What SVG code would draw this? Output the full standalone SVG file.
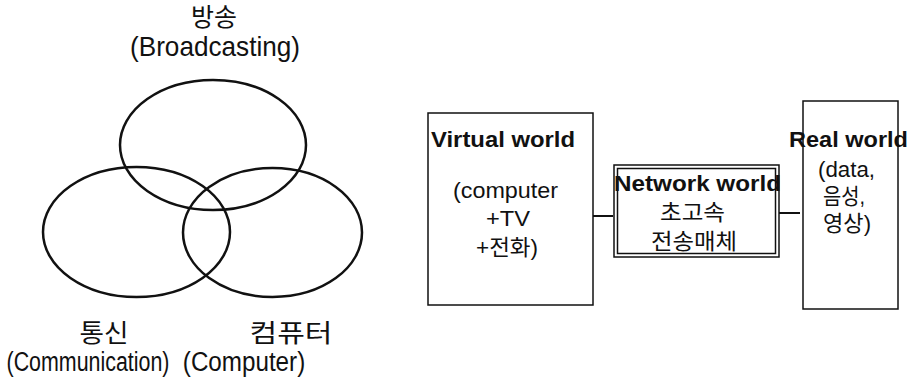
<svg xmlns="http://www.w3.org/2000/svg" width="913" height="380" viewBox="0 0 913 380">
<style>
  .bg { fill: #ffffff; }
  .ell { fill: none; stroke: #111; stroke-width: 2.5; }
  .box { fill: none; stroke: #111; stroke-width: 1.5; }
  .conn { stroke: #111; stroke-width: 2; }
  text { fill: #111; font-family: "Liberation Sans", "Noto Sans CJK KR", sans-serif; text-anchor: middle; }
  .lg { font-size: 28px; }
  .lk { font-size: 25px; }
  .md { font-size: 22px; }
  .b { font-weight: bold; text-anchor: start; }
</style>
<rect class="bg" x="0" y="0" width="913" height="380"/>

<g id="broadcasting">
  <ellipse class="ell" cx="213" cy="145" rx="93" ry="65"/>
  <text class="lk" x="214" y="26" textLength="46" lengthAdjust="spacingAndGlyphs">방송</text>
  <text class="lg" x="215" y="56" textLength="170" lengthAdjust="spacingAndGlyphs">(Broadcasting)</text>
</g>

<g id="communication">
  <ellipse class="ell" cx="136.5" cy="232" rx="93.5" ry="65"/>
  <text class="lk" x="104" y="342" textLength="49" lengthAdjust="spacingAndGlyphs">통신</text>
  <text class="lg" transform="translate(88,371) scale(0.765,1)" x="0" y="0">(Communication)</text>
</g>

<g id="computer">
  <ellipse class="ell" cx="272.5" cy="232.5" rx="89.5" ry="64.5"/>
  <text class="lk" x="291" y="342" textLength="83" lengthAdjust="spacingAndGlyphs">컴퓨터</text>
  <text class="lg" transform="translate(244,371) scale(0.865,1)" x="0" y="0">(Computer)</text>
</g>

<g id="connectors">
  <line class="conn" x1="593" y1="216" x2="613" y2="216"/>
  <line class="conn" x1="779" y1="213" x2="800" y2="213"/>
</g>

<g id="virtual-world">
  <rect class="box" x="428" y="113" width="165" height="192"/>
  <text class="md b" x="431" y="147" textLength="144" lengthAdjust="spacingAndGlyphs">Virtual world</text>
  <text class="md" x="505.5" y="198" textLength="105" lengthAdjust="spacingAndGlyphs">(computer</text>
  <text class="md" x="508" y="226" textLength="44" lengthAdjust="spacingAndGlyphs">+TV</text>
  <text class="md" x="507" y="255" textLength="62" lengthAdjust="spacingAndGlyphs">+전화)</text>
</g>

<g id="network-world">
  <rect class="box" x="614" y="165" width="165" height="92"/>
  <rect class="box" x="617.5" y="168.5" width="158" height="85"/>
  <text class="md b" x="614" y="191" textLength="167" lengthAdjust="spacingAndGlyphs">Network world</text>
  <text class="md" x="692.5" y="220" textLength="65" lengthAdjust="spacingAndGlyphs">초고속</text>
  <text class="md" x="694" y="249" textLength="86" lengthAdjust="spacingAndGlyphs">전송매체</text>
</g>

<g id="real-world">
  <rect class="box" x="803" y="101" width="95" height="208"/>
  <text class="md b" x="789" y="147" textLength="119" lengthAdjust="spacingAndGlyphs">Real world</text>
  <text class="md" x="846.5" y="177" textLength="57" lengthAdjust="spacingAndGlyphs">(data,</text>
  <text class="md" x="844" y="204" textLength="42" lengthAdjust="spacingAndGlyphs">음성,</text>
  <text class="md" x="847" y="231" textLength="48" lengthAdjust="spacingAndGlyphs">영상)</text>
</g>
</svg>
